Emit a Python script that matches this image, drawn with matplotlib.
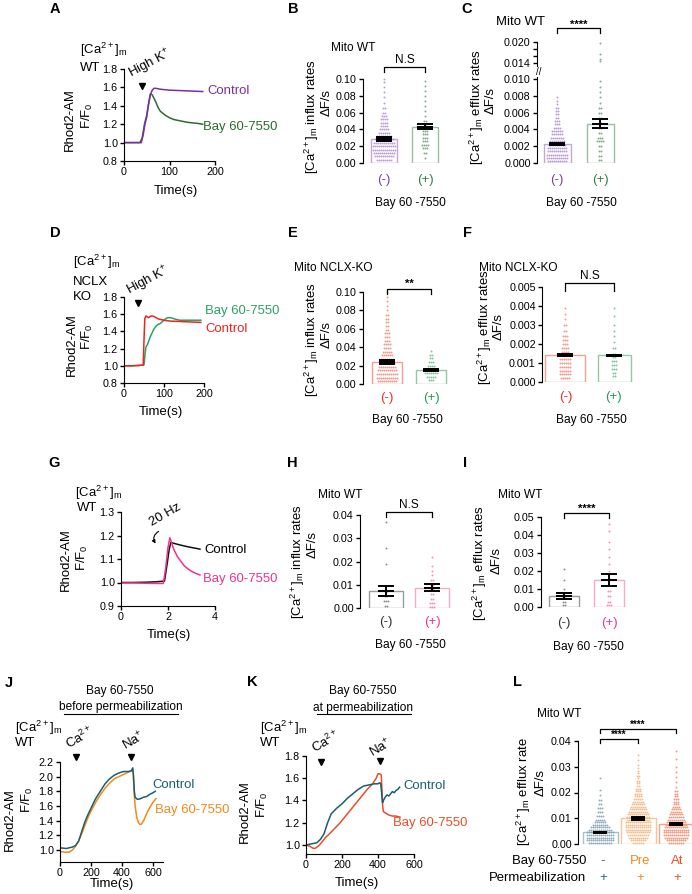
import numpy as np
import matplotlib
matplotlib.use('Agg')
import matplotlib.pyplot as plt
from matplotlib import font_manager as fm
from matplotlib.lines import Line2D
import matplotlib.transforms as mtrans

# ---------------- DATA ----------------
# A: WT, high K+
A_t_ctrl = [0, 20, 38, 42, 46, 50, 54, 58, 62, 66, 70, 80, 100, 125, 150, 173]
A_v_ctrl = [1.0, 1.0, 1.0, 1.08, 1.2, 1.28, 1.42, 1.52, 1.57, 1.59, 1.59, 1.58, 1.57, 1.565, 1.56, 1.555]
A_t_bay = [0, 20, 35, 40, 45, 50, 55, 58, 62, 66, 70, 75, 80, 90, 100, 110, 120, 140, 160, 173]
A_v_bay = [1.0, 1.0, 1.0, 1.05, 1.2, 1.3, 1.45, 1.53, 1.52, 1.48, 1.44, 1.38, 1.34, 1.3, 1.27, 1.25, 1.24, 1.22, 1.21, 1.2]

# B: influx rates WT
B_means = [0.029, 0.043]
B_sems = [0.0025, 0.003]
B_neg_lv = [0.004, 0.008, 0.012, 0.016, 0.020, 0.024, 0.028, 0.032, 0.036, 0.040, 0.044, 0.048, 0.052,
            0.056, 0.060, 0.066, 0.072, 0.078, 0.084, 0.090, 0.096, 0.100]
B_neg_ct = [8, 10, 11, 12, 12, 11, 10, 8, 6, 5, 4, 4, 4, 3, 2, 2, 1, 1, 1, 1, 1, 1]
B_pos_lv = [0.006, 0.012, 0.018, 0.022, 0.026, 0.030, 0.034, 0.038, 0.042, 0.046, 0.050, 0.056, 0.062,
            0.068, 0.074, 0.080, 0.086, 0.092, 0.098]
B_pos_ct = [1, 2, 3, 4, 3, 3, 3, 3, 2, 2, 2, 1, 1, 1, 1, 1, 1, 1, 1]

# C: efflux rates WT
C_means = [0.0023, 0.0047]
C_sems = [0.00012, 0.0005]
C_neg_lv = [0.0002, 0.0006, 0.0010, 0.0014, 0.0018, 0.0022, 0.0026, 0.0030, 0.0034, 0.0038, 0.0042,
            0.0046, 0.0050, 0.0054, 0.0058, 0.0062, 0.0066, 0.0070, 0.0074, 0.0078]
C_neg_ct = [10, 11, 11, 10, 10, 9, 8, 7, 6, 6, 4, 3, 3, 2, 2, 2, 2, 1, 1, 1]
C_pos_lv = [0.0003, 0.0008, 0.0014, 0.0020, 0.0026, 0.0030, 0.0036, 0.0042, 0.0048, 0.0054, 0.0060,
            0.0066, 0.0072, 0.0078, 0.0084, 0.0090, 0.0098]
C_pos_ct = [2, 2, 2, 2, 4, 3, 2, 2, 2, 2, 2, 2, 1, 1, 1, 1, 1]
C_pos_hi = [0.0145, 0.0152, 0.0165, 0.0198]

# D: NCLX KO, high K+
D_t_ctrl = [0, 20, 40, 48, 50, 52, 55, 58, 62, 66, 70, 74, 78, 82, 86, 90, 100, 115, 140, 165, 192]
D_v_ctrl = [1.0, 1.0, 1.005, 1.01, 1.3, 1.55, 1.58, 1.57, 1.56, 1.575, 1.58, 1.575, 1.565, 1.555, 1.545,
            1.54, 1.53, 1.52, 1.515, 1.51, 1.505]
D_t_bay = [0, 20, 40, 50, 53, 55, 58, 62, 66, 70, 75, 80, 85, 90, 95, 100, 105, 110, 115, 120, 130, 140, 160, 192]
D_v_bay = [1.0, 1.0, 1.005, 1.01, 1.15, 1.22, 1.24, 1.29, 1.34, 1.38, 1.43, 1.46, 1.48, 1.49, 1.51, 1.53,
           1.55, 1.56, 1.56, 1.555, 1.54, 1.53, 1.53, 1.53]

# E: influx NCLX-KO
E_means = [0.024, 0.015]
E_sems = [0.0025, 0.001]
E_neg_lv = [0.003, 0.007, 0.011, 0.015, 0.019, 0.023, 0.027, 0.031, 0.035, 0.039, 0.043, 0.047, 0.051,
            0.055, 0.059, 0.063, 0.067, 0.071, 0.075, 0.080, 0.085, 0.090, 0.095, 0.100]
E_neg_ct = [10, 11, 11, 10, 9, 8, 7, 6, 5, 4, 4, 3, 3, 3, 2, 2, 2, 2, 2, 1, 1, 1, 1, 1]
E_pos_lv = [0.004, 0.008, 0.012, 0.016, 0.020, 0.024, 0.028, 0.032, 0.036]
E_pos_ct = [3, 5, 7, 6, 4, 3, 2, 2, 1]

# F: efflux NCLX-KO
F_means = [0.00142, 0.00140]
F_sems = [0.00004, 0.00004]
F_neg_lv = [0.0002, 0.0004, 0.0006, 0.0008, 0.0010, 0.0012, 0.0014, 0.0016, 0.0018, 0.0020, 0.0022,
            0.0024, 0.0027, 0.0030, 0.0033, 0.0036, 0.0039]
F_neg_ct = [5, 6, 6, 6, 6, 6, 5, 4, 4, 3, 3, 3, 2, 2, 1, 1, 1]
F_pos_lv = [0.0003, 0.0005, 0.0007, 0.0009, 0.0011, 0.0013, 0.0015, 0.0018, 0.0021, 0.0024, 0.0027,
            0.0030, 0.0035, 0.0039]
F_pos_ct = [2, 2, 3, 3, 3, 2, 2, 2, 1, 1, 1, 1, 1, 1]

# G: WT, 20 Hz
G_t_ctrl = [0, 0.5, 1.0, 1.5, 1.85, 1.95, 2.05, 2.12, 2.2, 2.5, 2.8, 3.1, 3.36]
G_v_ctrl = [1.0, 1.0, 1.001, 1.003, 1.006, 1.07, 1.14, 1.17, 1.168, 1.16, 1.153, 1.147, 1.142]
G_t_bay = [0, 0.5, 1.0, 1.5, 1.8, 1.9, 2.0, 2.08, 2.15, 2.25, 2.4, 2.55, 2.7, 2.85, 3.0, 3.15, 3.36]
G_v_bay = [0.998, 0.998, 0.997, 0.996, 0.996, 1.06, 1.15, 1.19, 1.17, 1.14, 1.11, 1.09, 1.07, 1.058,
           1.048, 1.04, 1.032]

# H: influx WT (20 Hz)
H_means = [0.0073, 0.0088]
H_sems = [0.0021, 0.0014]
H_neg_lv = [0.001, 0.003, 0.005, 0.007, 0.019, 0.026, 0.037]
H_neg_ct = [2, 3, 2, 1, 1, 1, 1]
H_pos_lv = [0.0005, 0.002, 0.004, 0.006, 0.008, 0.010, 0.012, 0.014, 0.016, 0.018, 0.022]
H_pos_ct = [3, 3, 2, 2, 2, 2, 2, 1, 1, 1, 1]

# I: efflux WT (20 Hz)
I_means = [0.0061, 0.0152]
I_sems = [0.0015, 0.0034]
I_neg_lv = [0.001, 0.003, 0.005, 0.008, 0.010, 0.015, 0.021]
I_neg_ct = [2, 2, 2, 1, 1, 1, 1]
I_pos_lv = [0.001, 0.003, 0.006, 0.009, 0.012, 0.016, 0.020, 0.024, 0.028, 0.032, 0.036, 0.042, 0.046]
I_pos_ct = [3, 2, 2, 2, 1, 1, 1, 1, 1, 1, 1, 1, 1]

# J: before permeabilization
J_t_ctrl = [0, 40, 80, 100, 120, 140, 160, 180, 200, 230, 260, 290, 320, 350, 380, 410, 440, 460, 470,
            475, 480, 485, 500, 520, 540, 560, 580, 600, 615]
J_v_ctrl = [1.03, 1.02, 1.04, 1.06, 1.12, 1.25, 1.38, 1.48, 1.57, 1.7, 1.8, 1.9, 1.97, 2.02, 2.05, 2.07,
            2.07, 2.08, 2.12, 2.0, 1.8, 1.72, 1.69, 1.7, 1.72, 1.73, 1.76, 1.78, 1.8]
J_t_bay = [0, 30, 60, 80, 100, 120, 140, 160, 180, 200, 230, 260, 290, 320, 350, 380, 410, 440, 465, 472,
           478, 485, 495, 505, 515, 525, 540, 560, 580, 600, 620]
J_v_bay = [0.98, 0.97, 0.97, 1.0, 1.05, 1.12, 1.22, 1.33, 1.44, 1.53, 1.65, 1.75, 1.84, 1.91, 1.97, 2.0,
           2.03, 2.06, 2.08, 2.06, 1.8, 1.6, 1.45, 1.38, 1.35, 1.35, 1.4, 1.5, 1.58, 1.65, 1.7]

# K: at permeabilization
K_t_ctrl = [0, 30, 60, 80, 100, 120, 140, 170, 200, 230, 260, 290, 320, 350, 380, 400, 410, 415, 420, 425,
            430, 440, 450, 460, 470, 480, 490, 500, 510, 520]
K_v_ctrl = [1.0, 1.01, 1.02, 1.05, 1.1, 1.2, 1.28, 1.33, 1.37, 1.42, 1.46, 1.5, 1.53, 1.54, 1.55, 1.55,
            1.56, 1.55, 1.47, 1.38, 1.4, 1.43, 1.45, 1.44, 1.46, 1.48, 1.47, 1.49, 1.5, 1.52]
K_t_bay = [0, 20, 40, 50, 60, 75, 90, 110, 130, 160, 190, 220, 250, 280, 310, 340, 370, 390, 400, 410, 418,
           422, 426, 430, 440, 460, 480, 500, 522]
K_v_bay = [1.0, 0.99, 0.97, 0.97, 0.98, 1.0, 1.03, 1.07, 1.1, 1.15, 1.2, 1.26, 1.32, 1.38, 1.44, 1.5, 1.55,
           1.6, 1.64, 1.64, 1.63, 1.5, 1.35, 1.3, 1.29, 1.27, 1.26, 1.26, 1.25]

# L: efflux rate WT, permeabilized
L_cats = ['-', 'Pre', 'At']
L_means = [0.0045, 0.0100, 0.0078]
L_sems = [0.0003, 0.0005, 0.0004]
L_neg_lv = [0.0005, 0.0015, 0.0025, 0.0035, 0.0045, 0.0055, 0.0065, 0.0075, 0.0085, 0.0095, 0.011,
            0.0125, 0.014, 0.0155, 0.017, 0.019, 0.021, 0.0255]
L_neg_ct = [12, 14, 14, 14, 14, 12, 10, 8, 6, 5, 4, 3, 3, 2, 2, 1, 1, 1]
L_pre_lv = [0.0005, 0.0015, 0.0025, 0.0035, 0.0045, 0.0055, 0.0065, 0.0075, 0.0085, 0.0095, 0.0105,
            0.0115, 0.0125, 0.0135, 0.0145, 0.0155, 0.0165, 0.0175, 0.0185, 0.0195, 0.0205, 0.0215,
            0.0225, 0.0235, 0.0245, 0.0255, 0.0265, 0.0275, 0.0285, 0.0295, 0.0305, 0.0325, 0.0345]
L_pre_ct = [6, 8, 10, 11, 12, 13, 13, 13, 13, 12, 12, 11, 10, 9, 8, 7, 6, 5, 4, 4, 3, 3, 2, 2, 2, 1, 2,
            1, 1, 1, 1, 1, 1]
L_at_lv = [0.0005, 0.0015, 0.0025, 0.0035, 0.0045, 0.0055, 0.0065, 0.0075, 0.0085, 0.0095, 0.0105,
           0.0115, 0.0125, 0.0135, 0.0145, 0.0155, 0.0165, 0.0175, 0.0185, 0.0195, 0.0205, 0.022, 0.024,
           0.026, 0.028, 0.030, 0.033, 0.036]
L_at_ct = [8, 10, 12, 13, 13, 13, 12, 11, 10, 9, 8, 7, 6, 5, 4, 3, 3, 3, 2, 2, 2, 1, 1, 1, 1, 1, 1, 1]

# ---------------- STYLE ----------------
avail = {f.name for f in fm.fontManager.ttflist}
NARROW = 'Liberation Sans Narrow' in avail
FONT = 'Liberation Sans Narrow' if NARROW else 'Liberation Sans'
BOLD = 'Liberation Sans' if 'Liberation Sans' in avail else 'DejaVu Sans'
plt.rcParams['font.family'] = [FONT, 'DejaVu Sans']
plt.rcParams['mathtext.fontset'] = 'custom'
plt.rcParams['mathtext.rm'] = FONT
plt.rcParams['mathtext.it'] = FONT + ':italic'
plt.rcParams['mathtext.bf'] = FONT + ':bold'

PURPLE = '#7b2fa6'
DGREEN = '#2d6a2f'
RED = '#f0221c'
GREEN = '#2aa162'
PINK = '#f0328c'
TEAL = '#1a5f6e'
ORANGE = '#f08a1c'
REDOR = '#ea4e26'

SC = 1.0 if NARROW else 0.86
LBL = 11 * SC
SML = 10 * SC
TICK = 9 * SC

W, H = 692, 894
fig = plt.figure(figsize=(W / 100, H / 100), dpi=100)
CA = r'[Ca$^{\mathrm{2+}}$]$_{\mathrm{m}}$'


def add_ax(l, t, r, b):
    return fig.add_axes([l / W, 1 - b / H, (r - l) / W, (b - t) / H])


def T(x, y, s, **kw):
    kw.setdefault('ha', 'center')
    kw.setdefault('va', 'center')
    kw.setdefault('fontsize', LBL)
    fig.text(x / W, 1 - y / H, s, **kw)


def hline_px(x1, x2, y, lw=0.8):
    fig.add_artist(Line2D([x1 / W, x2 / W], [1 - y / H, 1 - y / H], transform=fig.transFigure,
                          color='k', lw=lw))


def blended(ax):
    return mtrans.blended_transform_factory(ax.transData, fig.transFigure)


def stim_arrow(ax, xd, ypx):
    ax.plot([xd], [1 - ypx / H], marker='v', ms=5, color='k', transform=blended(ax), clip_on=False)


def bracket(ax, x1, x2, ypx, drop, text, tpx, fs=10, bold=False):
    tr = blended(ax)
    y = 1 - ypx / H
    yd = 1 - (ypx + drop) / H
    ax.add_line(Line2D([x1, x1, x2, x2], [yd, y, y, yd], transform=tr, color='k', lw=0.9, clip_on=False))
    ax.text((x1 + x2) / 2, 1 - tpx / H, text, transform=tr, ha='center', va='center', fontsize=fs,
            fontweight='bold' if bold else 'normal', clip_on=False)


def line_panel(box, xlim, ylim, xticks, yticks, series):
    l, t, r, b = box
    ax = add_ax(l, t, r, b)
    for tt, vv, c in series:
        ax.plot(tt, vv, color=c, lw=1.1)
    ax.set_xlim(*xlim)
    ax.set_ylim(*ylim)
    ax.spines[['top', 'right']].set_visible(False)
    ax.set_xticks(xticks)
    ax.set_yticks(yticks)
    ax.set_yticklabels([f'{v:.1f}' for v in yticks])
    ax.tick_params(direction='out', length=3, width=1, labelsize=TICK, pad=1.5)
    return ax


def swarm(ax, x0, levels, counts, color, unit, dx_px=2.0, ms=1.4):
    xs, ys = [], []
    for lv, n in zip(levels, counts):
        offs = (np.arange(n) - (n - 1) / 2) * dx_px / unit
        xs.extend(x0 + offs)
        ys.extend([lv] * n)
    ax.plot(xs, ys, 'o', ms=ms, color=color, mec='none', alpha=0.85, zorder=2, clip_on=False)


def bar_panel(box, centers, widths, ylim, yticks, fmt, means, sems, edges, dots, dotcols, capsize=6):
    l, t, r, b = box
    ax = add_ax(l, t, r, b)
    unit = centers[1] - centers[0]
    xs = [(c - centers[0]) / unit for c in centers]
    ax.set_xlim((l - centers[0]) / unit, (r - centers[0]) / unit)
    ax.set_ylim(*ylim)
    if np.isscalar(widths):
        widths = [widths] * len(xs)
    ax.bar(xs, means, width=[w / unit for w in widths], facecolor='white', edgecolor=edges, lw=1.0, zorder=1)
    for x, (lv, ct), c in zip(xs, dots, dotcols):
        swarm(ax, x, lv, ct, c, unit)
    ax.errorbar(xs, means, yerr=sems, fmt='_', color='k', ms=2 * capsize, mew=1.4, elinewidth=1.4,
                capsize=capsize, capthick=1.4, zorder=3)
    ax.spines[['top', 'right', 'bottom']].set_visible(False)
    ax.set_xticks([])
    ax.set_yticks(yticks)
    ax.set_yticklabels([fmt.format(v) for v in yticks])
    ax.tick_params(axis='y', direction='out', length=3, width=1, labelsize=TICK, pad=1.5)
    return ax, xs, unit


# ---------------- PANELS ----------------
for lx, ly, s in [(55, 9, 'A'), (293, 9, 'B'), (467, 9, 'C'), (55, 233, 'D'), (293, 233, 'E'),
                  (467, 233, 'F'), (54, 463, 'G'), (292, 463, 'H'), (465, 463, 'I'), (9, 683, 'J'),
                  (252, 682, 'K'), (518, 682, 'L')]:
    T(lx, ly, s, fontsize=10.5, fontweight='bold', family=BOLD)

# A
axA = line_panel((124, 69, 215, 161), (0, 200), (0.8, 1.8), [0, 100, 200], [0.8, 1.0, 1.2, 1.4, 1.6, 1.8],
                 [(A_t_bay, A_v_bay, DGREEN), (A_t_ctrl, A_v_ctrl, PURPLE)])
T(80, 50, CA, ha='left')
T(80, 68, 'WT', ha='left')
T(70, 120, 'Rhod2-AM', rotation=90)
T(87, 116, 'F/F$_0$', rotation=90)
T(176, 191, 'Time(s)')
T(150, 64, 'High K$^{+}$', rotation=28)
stim_arrow(axA, 40, 86)
T(207, 91, 'Control', ha='left', color=PURPLE)
T(203, 127, 'Bay 60-7550', ha='left', color=DGREEN)

# B
axB, xsB, _ = bar_panel((363, 79, 445, 163), [384, 425], 26, (0, 0.10), [0, 0.02, 0.04, 0.06, 0.08, 0.10],
                        '{:.2f}', B_means, B_sems, ['#c3a6db', '#9dbfa3'],
                        [(B_neg_lv, B_neg_ct), (B_pos_lv, B_pos_ct)], ['#b08fd0', '#6f9c78'])
T(353, 48, 'Mito WT', fontsize=SML)
bracket(axB, xsB[0], xsB[1], 67, 5, 'N.S', 60, fs=SML)
T(312, 117, CA + ' influx rates', rotation=90)
T(327, 103, 'ΔF/s', rotation=90)
T(384, 180, '(-)', color='#7b3fa8')
T(425, 180, '(+)', color='#3a7a4a')
T(410, 203, 'Bay 60 -7550', fontsize=SML)

# C (broken axis)
axC, xsC, unitC = bar_panel((537, 77, 625, 163), [557, 600], 27, (0, 0.01024),
                            [0, 0.002, 0.004, 0.006, 0.008, 0.010], '{:.3f}', C_means, C_sems,
                            ['#c3a6db', '#9dbfa3'], [(C_neg_lv, C_neg_ct), (C_pos_lv, C_pos_ct)],
                            ['#b08fd0', '#6f9c78'])
axC2 = add_ax(537, 42, 625, 66)
axC2.set_xlim(axC.get_xlim())
axC2.set_ylim(0.01314, 0.020)
swarm(axC2, xsC[1], C_pos_hi, [1] * len(C_pos_hi), '#6f9c78', unitC)
axC2.spines[['top', 'right', 'bottom']].set_visible(False)
axC2.set_xticks([])
axC2.set_yticks([0.014, 0.016, 0.018, 0.020])
axC2.set_yticklabels(['0.014', '', '', '0.020'])
axC2.tick_params(axis='y', direction='out', length=3, width=1, labelsize=TICK, pad=1.5)
T(539, 72, '//', fontsize=7)
T(520, 22, 'Mito WT')
bracket(axC2, xsC[0], xsC[1], 28, 5, '****', 25, fs=8, bold=True)
T(477, 107, CA + ' efflux rates', rotation=90)
T(491, 100, 'ΔF/s', rotation=90)
T(557, 180, '(-)', color='#7b3fa8')
T(600, 180, '(+)', color='#3a7a4a')
T(581, 203, 'Bay 60 -7550', fontsize=SML)

# D
axD = line_panel((124, 297, 204, 383), (0, 200), (0.8, 1.8), [0, 100, 200], [0.8, 1.0, 1.2, 1.4, 1.6, 1.8],
                 [(D_t_bay, D_v_bay, GREEN), (D_t_ctrl, D_v_ctrl, RED)])
T(73, 262, CA, ha='left')
T(73, 282, 'NCLX', ha='left')
T(73, 297, 'KO', ha='left')
T(148, 281, 'High K$^{+}$', rotation=28)
stim_arrow(axD, 35, 303)
T(72, 345, 'Rhod2-AM', rotation=90)
T(87, 337, 'F/F$_0$', rotation=90)
T(161, 412, 'Time(s)')
T(205, 311, 'Bay 60-7550', ha='left', color=GREEN)
T(205, 329, 'Control', ha='left', color=RED)

# E
axE, xsE, _ = bar_panel((363, 292, 452, 384), [387, 431], 30, (0, 0.10), [0, 0.02, 0.04, 0.06, 0.08, 0.10],
                        '{:.2f}', E_means, E_sems, ['#f4a090', '#8fc9a8'],
                        [(E_neg_lv, E_neg_ct), (E_pos_lv, E_pos_ct)], ['#f08878', '#70b890'])
T(333, 268, 'Mito NCLX-KO', fontsize=SML)
bracket(axE, xsE[0], xsE[1], 289, 5, '**', 284, fs=8, bold=True)
T(312, 340, CA + ' influx rates', rotation=90)
T(327, 335, 'ΔF/s', rotation=90)
T(387, 398, '(-)', color='#ee2d24')
T(431, 398, '(+)', color='#22995a')
T(407, 420, 'Bay 60 -7550', fontsize=SML)

# F
axF, xsF, _ = bar_panel((542, 287, 635, 382), [565, 614], [40, 33], (0, 0.005),
                        [0, 0.001, 0.002, 0.003, 0.004, 0.005], '{:.3f}', F_means, F_sems,
                        ['#f4a090', '#8fc9a8'], [(F_neg_lv, F_neg_ct), (F_pos_lv, F_pos_ct)],
                        ['#f08878', '#70b890'])
T(518, 268, 'Mito NCLX-KO', fontsize=SML)
bracket(axF, xsF[0], xsF[1], 283, 8, 'N.S', 276, fs=SML)
T(485, 327, CA + ' efflux rates', rotation=90)
T(499, 327, 'ΔF/s', rotation=90)
T(566, 397, '(-)', color='#ee2d24')
T(613, 397, '(+)', color='#22995a')
T(591, 420, 'Bay 60 -7550', fontsize=SML)

# G
axG = line_panel((121, 512, 215, 606), (0, 4), (0.9, 1.3), [0, 2, 4], [0.9, 1.0, 1.1, 1.2, 1.3],
                 [(G_t_ctrl, G_v_ctrl, '#111111'), (G_t_bay, G_v_bay, PINK)])
T(75, 493, CA, ha='left')
T(77, 508, 'WT', ha='left')
T(165, 515, '20 Hz', rotation=30)
fig.add_artist(matplotlib.patches.FancyArrowPatch((161 / W, 1 - 530 / H), (157 / W, 1 - 546 / H),
                                                  transform=fig.transFigure, arrowstyle='-|>',
                                                  connectionstyle='arc3,rad=0.6', mutation_scale=5,
                                                  lw=0.8, color='k'))
T(66, 560, 'Rhod2-AM', rotation=90)
T(82, 558, 'F/F$_0$', rotation=90)
T(169, 635, 'Time(s)')
T(204, 550, 'Control', ha='left')
T(203, 579, 'Bay 60-7550', ha='left', color=PINK)

# H
axH, xsH, _ = bar_panel((360, 515, 452, 608), [386, 432], 34, (0, 0.04), [0, 0.01, 0.02, 0.03, 0.04],
                        '{:.2f}', H_means, H_sems, ['#9a9a9a', '#f6a9c8'],
                        [(H_neg_lv, H_neg_ct), (H_pos_lv, H_pos_ct)], ['#7a7a7a', '#f080b0'])
T(340, 495, 'Mito WT', fontsize=SML)
bracket(axH, xsH[0], xsH[1], 512, 5, 'N.S', 505, fs=SML)
T(298, 562, CA + ' influx rates', rotation=90)
T(313, 545, 'ΔF/s', rotation=90)
T(386, 622, '(-)', color='#333333')
T(432, 622, '(+)', color='#ee3592')
T(410, 645, 'Bay 60 -7550', fontsize=SML)

# I
axI, xsI, _ = bar_panel((541, 517, 630, 607), [564, 609], 30, (0, 0.05), [0, 0.01, 0.02, 0.03, 0.04, 0.05],
                        '{:.2f}', I_means, I_sems, ['#9a9a9a', '#f6a9c8'],
                        [(I_neg_lv, I_neg_ct), (I_pos_lv, I_pos_ct)], ['#7a7a7a', '#f080b0'])
T(520, 495, 'Mito WT', fontsize=SML)
bracket(axI, xsI[0], xsI[1], 513, 5, '****', 509, fs=8, bold=True)
T(480, 563, CA + ' efflux rates', rotation=90)
T(497, 560, 'ΔF/s', rotation=90)
T(564, 623, '(-)', color='#333333')
T(609, 623, '(+)', color='#ee3592')
T(588, 647, 'Bay 60 -7550', fontsize=SML)

# J
axJ = line_panel((60, 762, 163, 862), (0, 665), (0.836, 2.2), [0, 200, 400, 600],
                 [1.0, 1.2, 1.4, 1.6, 1.8, 2.0, 2.2],
                 [(J_t_bay, J_v_bay, ORANGE), (J_t_ctrl, J_v_ctrl, TEAL)])
T(120, 691, 'Bay 60-7550', fontsize=SML)
T(121, 707, 'before permeabilization', fontsize=SML)
hline_px(64, 178, 714)
T(15, 728, CA, ha='left')
T(15, 743, 'WT', ha='left')
T(80, 738, 'Ca$^{2+}$', rotation=30)
stim_arrow(axJ, 103, 757)
T(134, 741, 'Na$^{+}$', rotation=30)
stim_arrow(axJ, 458, 757)
T(10, 820, 'Rhod2-AM', rotation=90)
T(27, 800, 'F/F$_0$', rotation=90)
T(112, 884, 'Time(s)')
T(152, 785, 'Control', ha='left', color=TEAL)
T(155, 810, 'Bay 60-7550', ha='left', color=ORANGE)

# K
axK = line_panel((306, 756, 414, 854), (0, 600), (0.919, 1.8), [0, 200, 400, 600], [1.0, 1.2, 1.4, 1.6, 1.8],
                 [(K_t_bay, K_v_bay, REDOR), (K_t_ctrl, K_v_ctrl, TEAL)])
T(363, 691, 'Bay 60-7550', fontsize=SML)
T(363, 708, 'at permeabilization', fontsize=SML)
hline_px(317, 411, 714)
T(260, 728, CA, ha='left')
T(260, 743, 'WT', ha='left')
T(326, 742, 'Ca$^{2+}$', rotation=30)
stim_arrow(axK, 83, 762)
T(381, 748, 'Na$^{+}$', rotation=30)
stim_arrow(axK, 412, 761)
T(245, 812, 'Rhod2-AM', rotation=90)
T(262, 805, 'F/F$_0$', rotation=90)
T(357, 883, 'Time(s)')
T(403, 786, 'Control', ha='left', color=TEAL)
T(393, 823, 'Bay 60-7550', ha='left', color=REDOR)

# L
axL, xsL, _ = bar_panel((578, 741, 692, 844), [600, 638, 676], 35, (0, 0.04), [0, 0.01, 0.02, 0.03, 0.04],
                        '{:.2f}', L_means, L_sems, ['#a9c0cc', '#f6c59c', '#f1a48c'],
                        [(L_neg_lv, L_neg_ct), (L_pre_lv, L_pre_ct), (L_at_lv, L_at_ct)],
                        ['#7fa0b2', '#f4b37e', '#ef8a6c'], capsize=5)
T(559, 714, 'Mito WT', fontsize=SML)
bracket(axL, xsL[0], xsL[2], 729, 4, '****', 725, fs=7, bold=True)
bracket(axL, xsL[0], xsL[1], 739, 4, '****', 735, fs=7, bold=True)
T(524, 792, CA + ' efflux rate', rotation=90)
T(541, 782, 'ΔF/s', rotation=90)
T(586, 861, 'Bay 60-7550', ha='right')
T(586, 878, 'Permeabilization', ha='right')
for x, lab, c in zip([603, 640, 677], L_cats, ['#2e6a80', ORANGE, REDOR]):
    T(x, 861, lab, color=c)
    T(x, 878, '+', color=c)

fig.savefig('out.png', dpi=100)
